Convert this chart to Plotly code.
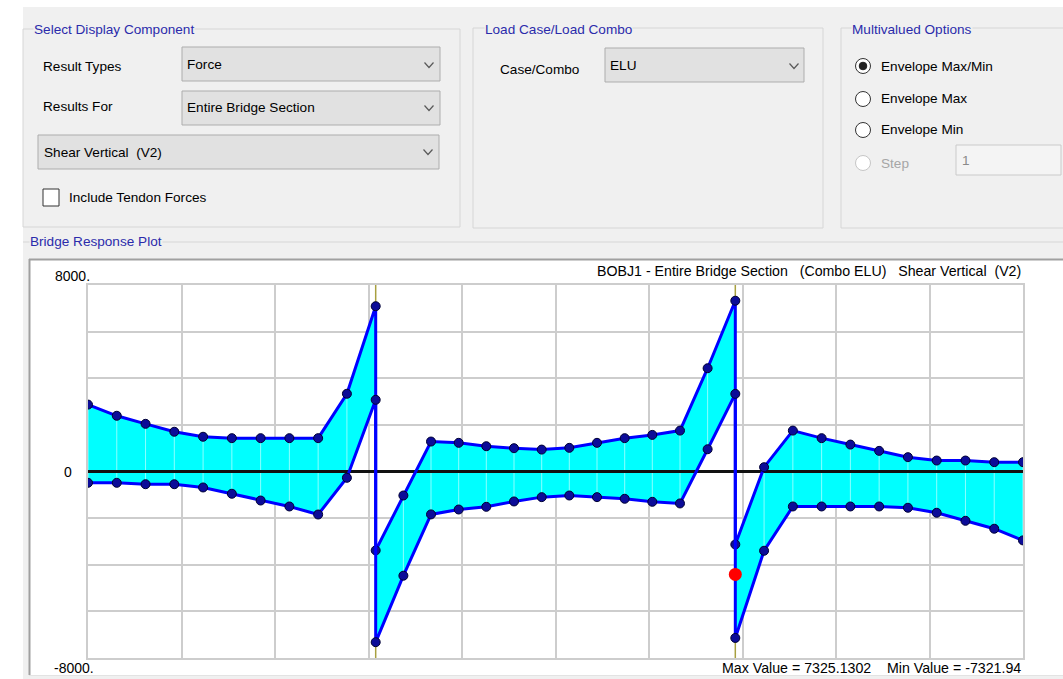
import plotly.graph_objects as go

# ---------------- data ----------------
span1_x = [0, 4, 8, 12, 16, 20, 24, 28, 32, 36, 40]
span1_max = [2870, 2390, 2045, 1705, 1490, 1430, 1430, 1430, 1430, 3335, 7090]
span1_min = [-485, -485, -545, -545, -685, -955, -1245, -1500, -1845, -270, 3075]

span2_x = [40, 43.85, 47.69, 51.54, 55.38, 59.23, 63.08, 66.92, 70.77, 74.62, 78.46, 82.31, 86.15, 90]
span2_max = [-3385, -1030, 1285, 1230, 1085, 1000, 940, 1015, 1230, 1430, 1570, 1755, 4430, 7325.13]
span2_min = [-7321.94, -4470, -1840, -1630, -1515, -1285, -1100, -1030, -1100, -1170, -1300, -1370, 955, 3330]

span3_x = [90, 94, 98, 102, 106, 110, 114, 118, 122, 126, 130]
span3_max = [-3130, 185, 1755, 1430, 1155, 885, 615, 470, 470, 400, 400]
span3_min = [-7140, -3400, -1500, -1500, -1500, -1500, -1555, -1770, -2115, -2455, -2955]

support_x = [40, 90]
selected_point = (90, -4413)

y_labels = ["8000.", "0", "-8000."]
y_label_vals = [8000, 0, -8000]

title_text = "BOBJ1 - Entire Bridge Section\u00a0\u00a0 (Combo ELU)\u00a0\u00a0 Shear Vertical\u00a0 (V2)"
maxmin_text = "Max Value = 7325.1302\u00a0\u00a0\u00a0 Min Value = -7321.94"

# ---------------- geometry helpers ----------------
W, H = 1063, 679
L, R, T, B = 88, 1023, 285, 658


def X(px):
    return (px - L) / (R - L)


def Y(py):
    return (B - py) / (B - T)


shapes = []
annotations = []

UI_FONT = "Liberation Sans, Arial, sans-serif"
BLUE_T = "#2b2bab"


def rect(x0, y0, x1, y1, fill="rgba(0,0,0,0)", line=None, lw=1, layer="below"):
    shapes.append(dict(type="rect", xref="paper", yref="paper",
                       x0=X(x0), x1=X(x1), y0=Y(y1), y1=Y(y0),
                       fillcolor=fill,
                       line=dict(color=line if line else "rgba(0,0,0,0)", width=lw if line else 0),
                       layer=layer))


def hline(x0, x1, y, color, lw=1):
    shapes.append(dict(type="line", xref="paper", yref="paper",
                       x0=X(x0), x1=X(x1), y0=Y(y), y1=Y(y),
                       line=dict(color=color, width=lw), layer="below"))


def vline(x, y0, y1, color, lw=1):
    shapes.append(dict(type="line", xref="paper", yref="paper",
                       x0=X(x), x1=X(x), y0=Y(y0), y1=Y(y1),
                       line=dict(color=color, width=lw), layer="below"))


def circle(cx, cy, r, fill, line, lw=1):
    shapes.append(dict(type="circle", xref="paper", yref="paper",
                       x0=X(cx - r), x1=X(cx + r), y0=Y(cy + r), y1=Y(cy - r),
                       fillcolor=fill, line=dict(color=line, width=lw), layer="above"))


def chevron(cx, cy):
    p = "M {} {} L {} {} L {} {}".format(X(cx - 4.5), Y(cy - 2.5), X(cx), Y(cy + 2.5), X(cx + 4.5), Y(cy - 2.5))
    shapes.append(dict(type="path", xref="paper", yref="paper", path=p,
                       line=dict(color="#5a5a5a", width=1.2), layer="above"))


def text(s, px, py, size=13.6, color="#000000", anchor="left", bg=None):
    annotations.append(dict(text=s, xref="paper", yref="paper", x=X(px), y=Y(py),
                            xanchor=anchor, yanchor="middle", showarrow=False,
                            font=dict(family=UI_FONT, size=size, color=color),
                            bgcolor=bg if bg else "rgba(0,0,0,0)", borderpad=0))


# ---------------- dialog background ----------------
rect(23, 7, 1070, 690, fill="#f0f0f0")

# group boxes
GB = "#d6d6d6"
rect(23, 29, 460, 227, line=GB)
rect(473, 28, 823, 228, line=GB)
rect(841, 28, 1075, 228, line=GB)
hline(23, 1070, 242, GB)

# chart area
rect(29, 259, 1075, 675, fill="#ffffff")
hline(29, 1070, 259.5, "#a0a0a0", 2)
vline(29.5, 259, 675, "#a0a0a0", 2)
hline(29, 1070, 675.5, "#e3e3e3", 1)

# dropdowns
DD_FILL, DD_LINE = "#e1e1e1", "#adadad"
rect(182, 47, 440, 81, fill=DD_FILL, line=DD_LINE)
rect(182, 91, 440, 125, fill=DD_FILL, line=DD_LINE)
rect(38, 135, 439, 169, fill=DD_FILL, line=DD_LINE)
rect(605, 48, 804, 82, fill=DD_FILL, line=DD_LINE)
chevron(429, 65)
chevron(429, 108)
chevron(428, 152)
chevron(794, 66)

# checkbox
rect(43, 189, 59, 206, fill="#ffffff", line="#333333")

# radio buttons
circle(863, 66, 7.5, "#ffffff", "#333333")
circle(863, 66, 3.8, "#222222", "#222222")
circle(863, 99, 7.5, "#ffffff", "#333333")
circle(863, 130, 7.5, "#ffffff", "#333333")
circle(863, 163, 7.5, "#ffffff", "#c6c6c6")

# step textbox
rect(956, 145, 1061, 175, fill="#f4f4f4", line="#cacaca")

# UI texts
text("Select Display Component", 33, 29, color=BLUE_T, bg="#f0f0f0")
text("Result Types", 42, 66)
text("Force", 186, 64)
text("Results For", 42, 107)
text("Entire Bridge Section", 186, 108)
text("Shear Vertical\u00a0 (V2)", 43, 152)
text("Include Tendon Forces", 68, 197)
text("Load Case/Load Combo", 484, 29, color=BLUE_T, bg="#f0f0f0")
text("Case/Combo", 499, 69)
text("ELU", 609, 65)
text("Multivalued Options", 851, 29, color=BLUE_T, bg="#f0f0f0")
text("Envelope Max/Min", 880, 66)
text("Envelope Max", 880, 99)
text("Envelope Min", 880, 130)
text("Step", 880, 163, color="#a6a6a6")
text("1", 961, 160, color="#8a8a8a")
text("Bridge Response Plot", 29, 242, color=BLUE_T, bg="#f0f0f0")

# chart texts
text(title_text, 1022, 271, size=14.2, anchor="right")
text(maxmin_text, 1022, 668, size=14.2, anchor="right")
text(y_labels[0], 54, 276, size=14)
text(y_labels[1], 68, 472, size=14, anchor="center")
text(y_labels[2], 53, 668, size=14)

# ---------------- traces ----------------
x_all = span1_x + span2_x + span3_x
max_all = span1_max + span2_max + span3_max
min_all = span1_min + span2_min + span3_min

fig = go.Figure()

# envelope fill
fig.add_trace(go.Scatter(x=x_all + x_all[::-1], y=max_all + min_all[::-1],
                         fill="toself", fillcolor="#00ffff", mode="lines",
                         line=dict(width=0), hoverinfo="skip", showlegend=False))

# faint seams inside the fill at every station
sx, sy = [], []
for xv, a, b in zip(x_all, max_all, min_all):
    sx += [xv, xv, None]
    sy += [a, b, None]
fig.add_trace(go.Scatter(x=sx, y=sy, mode="lines",
                         line=dict(color="rgba(255,255,255,0.55)", width=1),
                         hoverinfo="skip", showlegend=False))

# support lines
spx, spy = [], []
for s in support_x:
    spx += [s, s, None]
    spy += [-8000, 8000, None]
fig.add_trace(go.Scatter(x=spx, y=spy, mode="lines",
                         line=dict(color="#a8a040", width=1.5),
                         hoverinfo="skip", showlegend=False))

# zero line
fig.add_trace(go.Scatter(x=[0, 130], y=[0, 0], mode="lines",
                         line=dict(color="#111111", width=3),
                         hoverinfo="skip", showlegend=False))

marker = dict(size=9, color="#0c0c98", line=dict(color="#000033", width=1))
fig.add_trace(go.Scatter(x=x_all, y=max_all, mode="lines+markers", name="Max",
                         line=dict(color="#0000ff", width=3), marker=marker,
                         showlegend=False))
fig.add_trace(go.Scatter(x=x_all, y=min_all, mode="lines+markers", name="Min",
                         line=dict(color="#0000ff", width=3), marker=marker,
                         showlegend=False))

# selected point
fig.add_trace(go.Scatter(x=[selected_point[0]], y=[selected_point[1]], mode="markers",
                         marker=dict(size=13, color="#ff0000"),
                         showlegend=False))

GRID = "#cdcdcd"
fig.update_layout(
    width=W, height=H,
    margin=dict(l=L, r=W - R, t=T, b=H - B, pad=0),
    paper_bgcolor="#ffffff",
    plot_bgcolor="#ffffff",
    shapes=shapes,
    annotations=annotations,
    showlegend=False,
    xaxis=dict(range=[0, 130], tick0=0, dtick=13, showgrid=True, gridcolor=GRID, gridwidth=1.6,
               zeroline=False, showticklabels=False, ticks="",
               showline=True, mirror=True, linecolor=GRID, linewidth=1.6, fixedrange=True),
    yaxis=dict(range=[-8000, 8000], tick0=0, dtick=2000, showgrid=True, gridcolor=GRID, gridwidth=1.6,
               zeroline=False, showticklabels=False, ticks="",
               showline=True, mirror=True, linecolor=GRID, linewidth=1.6, fixedrange=True),
)

fig.write_html("out.html", config={"displayModeBar": False},
               post_script="document.body.style.margin='0px';document.body.style.padding='0px';document.body.style.overflow='hidden';")
